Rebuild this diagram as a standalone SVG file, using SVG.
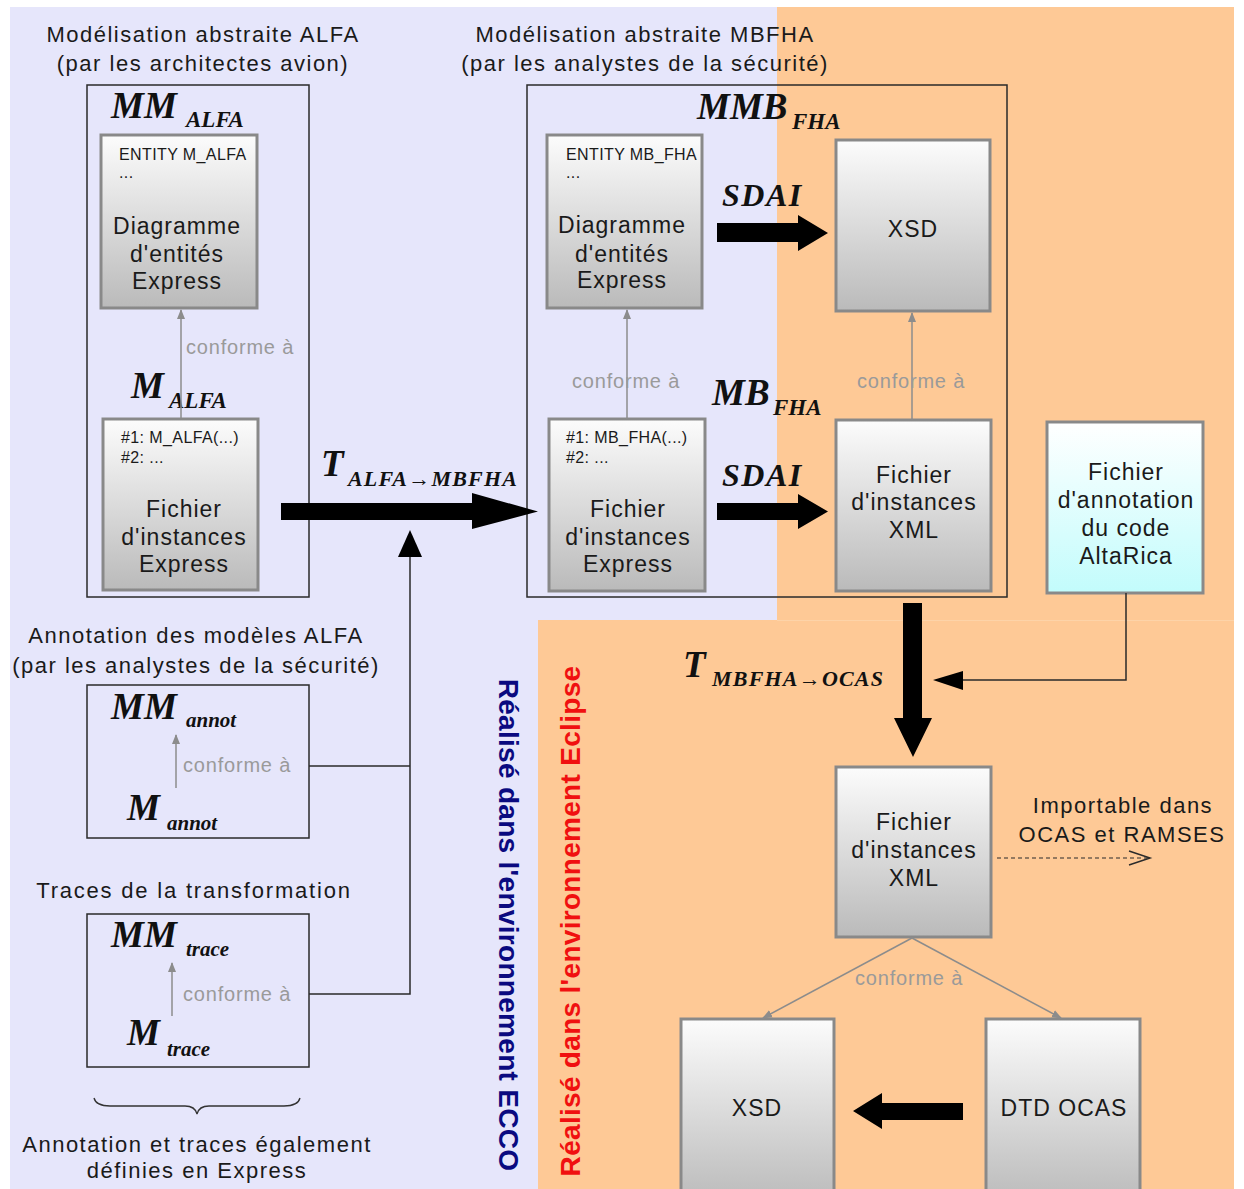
<svg xmlns="http://www.w3.org/2000/svg" width="1244" height="1189" viewBox="0 0 1244 1189">
<defs>
<linearGradient id="gbox" x1="0" y1="0" x2="0" y2="1"><stop offset="0" stop-color="#fcfcfc"/><stop offset="1" stop-color="#bababa"/></linearGradient>
<linearGradient id="gcyan" x1="0" y1="0" x2="0" y2="1"><stop offset="0" stop-color="#ffffff"/><stop offset="1" stop-color="#c2fcfc"/></linearGradient>
<marker id="ga" viewBox="0 0 10 10" refX="9" refY="5" markerWidth="10" markerHeight="10" markerUnits="userSpaceOnUse" orient="auto"><path d="M0,1 L10,5 L0,9 z" fill="#8c8c8c"/></marker>
<style>
.t{font-family:"Liberation Sans",Arial,sans-serif;fill:#1a1a1a}
.title{font-size:22px;letter-spacing:1.5px;text-anchor:middle}
.bx{font-size:23px;letter-spacing:1px;text-anchor:middle}
.sm{font-size:16px;letter-spacing:0.4px}
.cf{font-size:20px;letter-spacing:0.8px;fill:#9a9a9a}
.m{font-family:"Liberation Serif","Times New Roman",serif;font-style:italic;font-weight:bold;fill:#111}
.big{font-size:37px}
.sub{font-size:23px}
.sub2{font-size:21px}
.tsub{font-size:22px;letter-spacing:1.2px}
.sdai{font-size:32px;letter-spacing:1.5px}
.box{fill:url(#gbox);stroke:#898989;stroke-width:3}
.frame{fill:none;stroke:#2a2a2a;stroke-width:1.5}
.cline{stroke:#8c8c8c;stroke-width:1.5;fill:none}
.bline{stroke:#2a2a2a;stroke-width:1.5;fill:none}
.vt{font-family:"Liberation Sans",Arial,sans-serif;font-weight:bold;font-size:28px;letter-spacing:0.3px;text-anchor:middle}
</style>
</defs>

<g id="background">
<rect x="10" y="7" width="1224" height="1182" fill="#e6e6fb"/>
<path d="M777,7 H1234 V1189 H538 V620 H777 Z" fill="#fec996"/>
<line x1="777" y1="620.5" x2="1234" y2="620.5" stroke="#fdd3a8" stroke-width="1"/>
</g>

<g id="titles" class="t">
<text class="title t" x="203" y="42">Modélisation abstraite ALFA</text>
<text class="title t" x="203" y="71">(par les architectes avion)</text>
<text class="title t" x="645" y="42">Modélisation abstraite MBFHA</text>
<text class="title t" x="645" y="71">(par les analystes de la sécurité)</text>
<text class="title t" x="196" y="643">Annotation des modèles ALFA</text>
<text class="title t" x="196" y="673">(par les analystes de la sécurité)</text>
<text class="title t" x="194" y="898" style="letter-spacing:1.8px">Traces de la transformation</text>
<text class="title t" x="197" y="1152">Annotation et traces également</text>
<text class="title t" x="197" y="1178">définies en Express</text>
<text class="title t" x="1123" y="813">Importable dans</text>
<text class="title t" x="1122" y="842">OCAS et RAMSES</text>
</g>

<g id="vertical-labels">
<text class="vt" transform="translate(499,925) rotate(90)" fill="#0a0a80">Réalisé dans l'environnement ECCO</text>
<text class="vt" transform="translate(580,921) rotate(-90)" fill="#f01010">Réalisé dans l'environnement Eclipse</text>
</g>

<g id="mm-alfa">
<rect class="frame" x="87" y="85" width="222" height="512"/>
<text class="m big" x="111" y="118">MM</text>
<text class="m sub" x="186" y="127">ALFA</text>
</g>
<g id="diag-alfa">
<rect class="box" x="101" y="135" width="156" height="173"/>
<text class="t sm" x="119" y="160">ENTITY M_ALFA</text>
<text class="t sm" x="119" y="178">...</text>
<text class="t bx" x="177" y="234">Diagramme</text>
<text class="t bx" x="177" y="262">d'entités</text>
<text class="t bx" x="177" y="289">Express</text>
</g>
<g id="m-alfa-label">
<text class="m big" x="131" y="398">M</text>
<text class="m sub" x="169" y="408">ALFA</text>
</g>
<g id="fichier-alfa">
<rect class="box" x="103" y="419" width="155" height="171"/>
<text class="t sm" x="121" y="443">#1: M_ALFA(...)</text>
<text class="t sm" x="121" y="463">#2: ...</text>
<text class="t bx" x="184" y="517">Fichier</text>
<text class="t bx" x="184" y="545">d'instances</text>
<text class="t bx" x="184" y="572">Express</text>
</g>

<g id="mmb-fha">
<rect class="frame" x="527" y="85" width="480" height="512"/>
<text class="m big" x="697" y="119">MMB</text>
<text class="m sub" x="792" y="129">FHA</text>
</g>
<g id="diag-mbfha">
<rect class="box" x="547" y="135" width="155" height="173"/>
<text class="t sm" x="566" y="160">ENTITY MB_FHA</text>
<text class="t sm" x="566" y="178">...</text>
<text class="t bx" x="622" y="233">Diagramme</text>
<text class="t bx" x="622" y="262">d'entités</text>
<text class="t bx" x="622" y="288">Express</text>
</g>
<g id="mb-fha-label">
<text class="m big" x="712" y="405">MB</text>
<text class="m sub" x="773" y="415">FHA</text>
</g>
<g id="fichier-mbfha">
<rect class="box" x="549" y="419" width="156" height="172"/>
<text class="t sm" x="566" y="443">#1: MB_FHA(...)</text>
<text class="t sm" x="566" y="463">#2: ...</text>
<text class="t bx" x="628" y="517">Fichier</text>
<text class="t bx" x="628" y="545">d'instances</text>
<text class="t bx" x="628" y="572">Express</text>
</g>
<g id="xsd-top">
<rect class="box" x="836" y="140" width="154" height="171"/>
<text class="t bx" x="913" y="237">XSD</text>
</g>
<g id="xml-top">
<rect class="box" x="836" y="420" width="155" height="171"/>
<text class="t bx" x="914" y="483">Fichier</text>
<text class="t bx" x="914" y="510">d'instances</text>
<text class="t bx" x="914" y="538">XML</text>
</g>
<g id="annotation-altarica">
<rect x="1047" y="422" width="156" height="171" fill="url(#gcyan)" stroke="#898989" stroke-width="3"/>
<text class="t bx" x="1126" y="480">Fichier</text>
<text class="t bx" x="1126" y="508">d'annotation</text>
<text class="t bx" x="1126" y="536">du code</text>
<text class="t bx" x="1126" y="564">AltaRica</text>
</g>

<g id="mm-annot">
<rect class="frame" x="87" y="685" width="222" height="153"/>
<text class="m big" x="111" y="719">MM</text>
<text class="m sub2" x="186" y="727">annot</text>
<text class="m big" x="127" y="820">M</text>
<text class="m sub2" x="167" y="830">annot</text>
<text class="t cf" x="183" y="772">conforme à</text>
</g>
<g id="mm-trace">
<rect class="frame" x="87" y="914" width="222" height="153"/>
<text class="m big" x="111" y="947">MM</text>
<text class="m sub2" x="186" y="956">trace</text>
<text class="m big" x="127" y="1045">M</text>
<text class="m sub2" x="167" y="1056">trace</text>
<text class="t cf" x="183" y="1001">conforme à</text>
</g>

<g id="xml-bottom">
<rect class="box" x="836" y="767" width="155" height="170"/>
<text class="t bx" x="914" y="830">Fichier</text>
<text class="t bx" x="914" y="858">d'instances</text>
<text class="t bx" x="914" y="886">XML</text>
</g>
<g id="xsd-bottom">
<rect class="box" x="681" y="1019" width="153" height="185"/>
<text class="t bx" x="757" y="1116">XSD</text>
</g>
<g id="dtd-ocas">
<rect class="box" x="986" y="1019" width="154" height="185"/>
<text class="t bx" x="1064" y="1116">DTD OCAS</text>
</g>

<g id="connectors">
<line class="cline" x1="181" y1="418" x2="181" y2="310" marker-end="url(#ga)"/>
<line class="cline" x1="627" y1="419" x2="627" y2="310" marker-end="url(#ga)"/>
<line class="cline" x1="912" y1="420" x2="912" y2="313" marker-end="url(#ga)"/>
<line class="cline" x1="176" y1="788" x2="176" y2="735" marker-end="url(#ga)"/>
<line class="cline" x1="172" y1="1016" x2="172" y2="963" marker-end="url(#ga)"/>
<line class="cline" x1="912" y1="938" x2="763" y2="1018" marker-end="url(#ga)"/>
<line class="cline" x1="912" y1="938" x2="1061" y2="1018" marker-end="url(#ga)"/>

<polygon points="281,503 472,503 472,493 538,511.5 472,529 472,520 281,520" fill="#000"/>
<polyline class="bline" points="309,766 410,766"/>
<polyline class="bline" points="309,994 410,994 410,555"/>
<polygon points="410,530 398,557 422,557" fill="#000"/>

<polygon points="717,223 798,223 798,215 828,233 798,251 798,242 717,242" fill="#000"/>
<polygon points="717,503 798,503 798,494 828,511.5 798,529 798,520 717,520" fill="#000"/>

<polygon points="903,603 922,603 922,718 932,718 913,757 894,718 903,718" fill="#000"/>
<polyline class="bline" points="1126,593 1126,680 960,680"/>
<polygon points="933,680 963,671 963,690" fill="#000"/>

<line x1="997" y1="858" x2="1149" y2="858" stroke="#2a2a2a" stroke-width="1.2" stroke-dasharray="4,3"/>
<polyline points="1129,851 1150,858 1129,865" fill="none" stroke="#2a2a2a" stroke-width="1.5"/>

<polygon points="963,1103 882,1103 882,1093 853,1111 882,1129 882,1120 963,1120" fill="#000"/>

<path d="M94,1098 Q96,1106 110,1106 L185,1106 Q195,1106 197,1114 Q199,1106 209,1106 L284,1106 Q298,1106 300,1098" fill="none" stroke="#333" stroke-width="1.3"/>
</g>

<g id="edge-labels">
<text class="t cf" x="186" y="354">conforme à</text>
<text class="t cf" x="572" y="388">conforme à</text>
<text class="t cf" x="857" y="388">conforme à</text>
<text class="t cf" x="855" y="985">conforme à</text>
<text class="m big" x="321" y="476">T</text>
<text class="m tsub" x="348" y="486">ALFA→MBFHA</text>
<text class="m sdai" x="722" y="206">SDAI</text>
<text class="m sdai" x="722" y="486">SDAI</text>
<text class="m big" x="683" y="677">T</text>
<text class="m tsub" x="712" y="686">MBFHA→OCAS</text>
</g>
</svg>
